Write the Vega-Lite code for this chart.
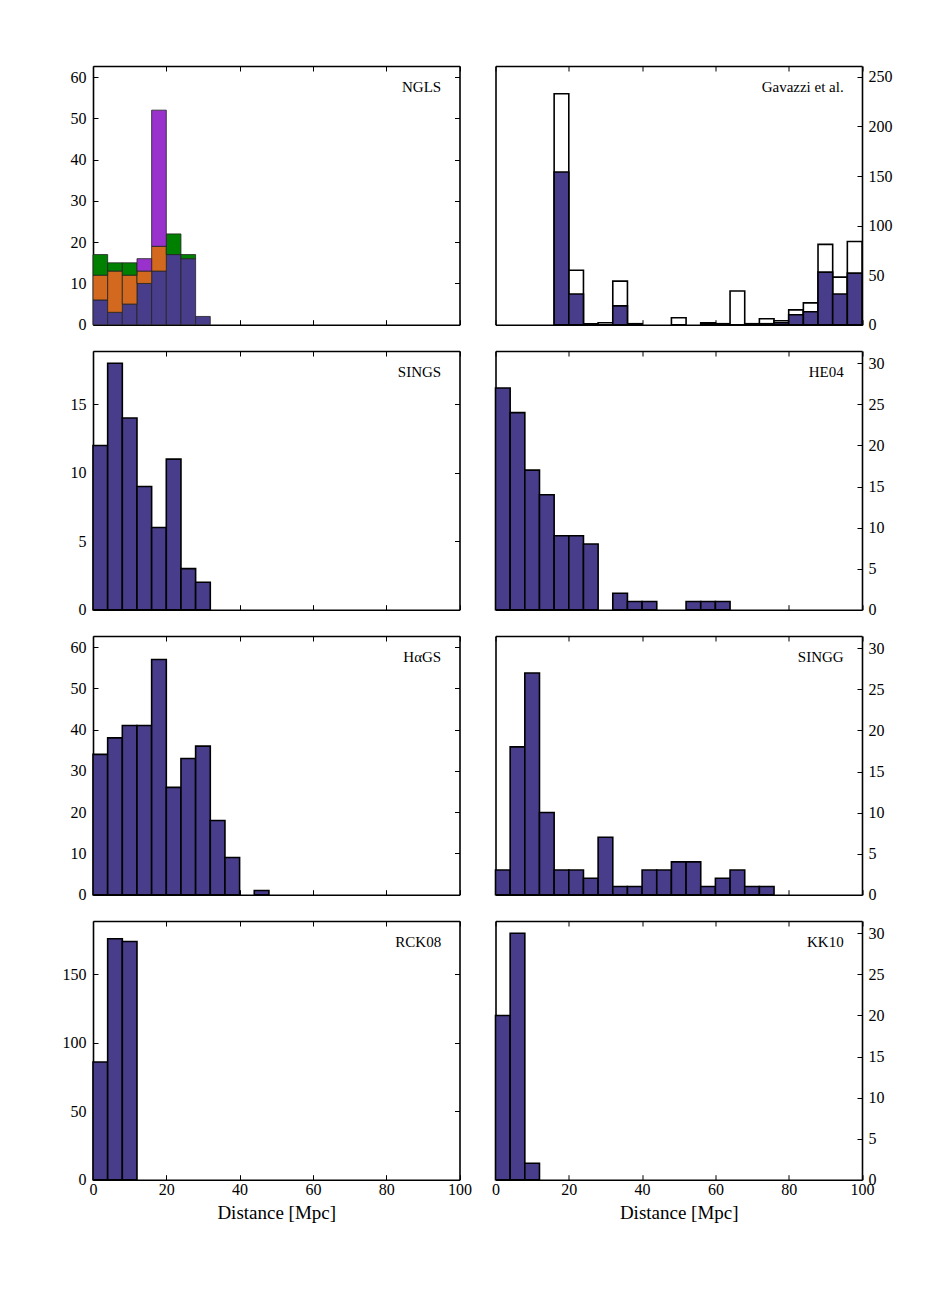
{
  "$schema": "https://vega.github.io/schema/vega-lite/v6.json",
  "padding": {"left": 62, "top": 65, "right": 5, "bottom": 5},
  "background": "white",
  "datasets": {
    "ngls": [
      {"lo": 0, "hi": 4, "n": 6, "group": "group 1"},
      {"lo": 4, "hi": 8, "n": 3, "group": "group 1"},
      {"lo": 8, "hi": 12, "n": 5, "group": "group 1"},
      {"lo": 12, "hi": 16, "n": 10, "group": "group 1"},
      {"lo": 16, "hi": 20, "n": 13, "group": "group 1"},
      {"lo": 20, "hi": 24, "n": 17, "group": "group 1"},
      {"lo": 24, "hi": 28, "n": 16, "group": "group 1"},
      {"lo": 28, "hi": 32, "n": 2, "group": "group 1"},
      {"lo": 0, "hi": 4, "n": 6, "group": "group 2"},
      {"lo": 4, "hi": 8, "n": 10, "group": "group 2"},
      {"lo": 8, "hi": 12, "n": 7, "group": "group 2"},
      {"lo": 12, "hi": 16, "n": 3, "group": "group 2"},
      {"lo": 16, "hi": 20, "n": 6, "group": "group 2"},
      {"lo": 0, "hi": 4, "n": 5, "group": "group 3"},
      {"lo": 4, "hi": 8, "n": 2, "group": "group 3"},
      {"lo": 8, "hi": 12, "n": 3, "group": "group 3"},
      {"lo": 20, "hi": 24, "n": 5, "group": "group 3"},
      {"lo": 24, "hi": 28, "n": 1, "group": "group 3"},
      {"lo": 12, "hi": 16, "n": 3, "group": "group 4"},
      {"lo": 16, "hi": 20, "n": 33, "group": "group 4"}
    ],
    "gavazzi": [
      {"lo": 16, "hi": 20, "all": 233, "sub": 154},
      {"lo": 20, "hi": 24, "all": 55, "sub": 31},
      {"lo": 24, "hi": 28, "all": 1, "sub": 0},
      {"lo": 28, "hi": 32, "all": 2, "sub": 0},
      {"lo": 32, "hi": 36, "all": 44, "sub": 19},
      {"lo": 36, "hi": 40, "all": 1, "sub": 0},
      {"lo": 48, "hi": 52, "all": 7, "sub": 0},
      {"lo": 56, "hi": 60, "all": 2, "sub": 1},
      {"lo": 60, "hi": 64, "all": 1, "sub": 0},
      {"lo": 64, "hi": 68, "all": 34, "sub": 0},
      {"lo": 68, "hi": 72, "all": 1, "sub": 0},
      {"lo": 72, "hi": 76, "all": 6, "sub": 1},
      {"lo": 76, "hi": 80, "all": 4, "sub": 2},
      {"lo": 80, "hi": 84, "all": 15, "sub": 10},
      {"lo": 84, "hi": 88, "all": 22, "sub": 13},
      {"lo": 88, "hi": 92, "all": 81, "sub": 53},
      {"lo": 92, "hi": 96, "all": 48, "sub": 31},
      {"lo": 96, "hi": 100, "all": 84, "sub": 52}
    ],
    "sings": [
      {"lo": 0, "hi": 4, "n": 12}, {"lo": 4, "hi": 8, "n": 18}, {"lo": 8, "hi": 12, "n": 14},
      {"lo": 12, "hi": 16, "n": 9}, {"lo": 16, "hi": 20, "n": 6}, {"lo": 20, "hi": 24, "n": 11},
      {"lo": 24, "hi": 28, "n": 3}, {"lo": 28, "hi": 32, "n": 2}
    ],
    "he04": [
      {"lo": 0, "hi": 4, "n": 27}, {"lo": 4, "hi": 8, "n": 24}, {"lo": 8, "hi": 12, "n": 17},
      {"lo": 12, "hi": 16, "n": 14}, {"lo": 16, "hi": 20, "n": 9}, {"lo": 20, "hi": 24, "n": 9},
      {"lo": 24, "hi": 28, "n": 8}, {"lo": 32, "hi": 36, "n": 2}, {"lo": 36, "hi": 40, "n": 1},
      {"lo": 40, "hi": 44, "n": 1}, {"lo": 52, "hi": 56, "n": 1}, {"lo": 56, "hi": 60, "n": 1},
      {"lo": 60, "hi": 64, "n": 1}
    ],
    "hags": [
      {"lo": 0, "hi": 4, "n": 34}, {"lo": 4, "hi": 8, "n": 38}, {"lo": 8, "hi": 12, "n": 41},
      {"lo": 12, "hi": 16, "n": 41}, {"lo": 16, "hi": 20, "n": 57}, {"lo": 20, "hi": 24, "n": 26},
      {"lo": 24, "hi": 28, "n": 33}, {"lo": 28, "hi": 32, "n": 36}, {"lo": 32, "hi": 36, "n": 18},
      {"lo": 36, "hi": 40, "n": 9}, {"lo": 44, "hi": 48, "n": 1}
    ],
    "singg": [
      {"lo": 0, "hi": 4, "n": 3}, {"lo": 4, "hi": 8, "n": 18}, {"lo": 8, "hi": 12, "n": 27},
      {"lo": 12, "hi": 16, "n": 10}, {"lo": 16, "hi": 20, "n": 3}, {"lo": 20, "hi": 24, "n": 3},
      {"lo": 24, "hi": 28, "n": 2}, {"lo": 28, "hi": 32, "n": 7}, {"lo": 32, "hi": 36, "n": 1},
      {"lo": 36, "hi": 40, "n": 1}, {"lo": 40, "hi": 44, "n": 3}, {"lo": 44, "hi": 48, "n": 3},
      {"lo": 48, "hi": 52, "n": 4}, {"lo": 52, "hi": 56, "n": 4}, {"lo": 56, "hi": 60, "n": 1},
      {"lo": 60, "hi": 64, "n": 2}, {"lo": 64, "hi": 68, "n": 3}, {"lo": 68, "hi": 72, "n": 1},
      {"lo": 72, "hi": 76, "n": 1}
    ],
    "rck08": [
      {"lo": 0, "hi": 4, "n": 86}, {"lo": 4, "hi": 8, "n": 176}, {"lo": 8, "hi": 12, "n": 174}
    ],
    "kk10": [
      {"lo": 0, "hi": 4, "n": 20}, {"lo": 4, "hi": 8, "n": 30}, {"lo": 8, "hi": 12, "n": 2}
    ]
  },
  "columns": 2,
  "spacing": {"row": 26, "column": 35.5},
  "bounds": "flush",
  "concat": [
    {
      "width": 366.5, "height": 258.7,
      "layer": [
        {
          "data": {"name": "ngls"},
          "mark": {"type": "bar", "orient": "vertical", "stroke": "#222222", "strokeWidth": 0.8},
          "encoding": {
            "x": {"field": "lo", "type": "quantitative", "scale": {"domain": [0, 100], "nice": false, "zero": false, "padding": 0}, "axis": {"orient": "bottom", "values": [0, 20, 40, 60, 80, 100], "labels": false, "title": null}},
            "x2": {"field": "hi"},
            "y": {"field": "n", "type": "quantitative", "stack": "zero", "scale": {"domain": [0, 62.7], "nice": false, "padding": 0}, "axis": {"orient": "left", "values": [0, 10, 20, 30, 40, 50, 60], "title": null}},
            "color": {"field": "group", "type": "nominal", "scale": {"domain": ["group 1", "group 2", "group 3", "group 4"], "range": ["#483D8B", "#D2691E", "#008000", "#9932CC"]}, "legend": null},
            "order": {"field": "group", "sort": "ascending"}
          }
        },
        {
          "data": {"values": [{"label": "NGLS"}]},
          "mark": {"type": "text", "align": "right", "baseline": "middle", "fontSize": 15, "font": "Liberation Serif", "color": "black"},
          "encoding": {
            "x": {"datum": 95, "type": "quantitative", "axis": {"orient": "top", "values": [0, 20, 40, 60, 80, 100], "labels": false, "title": null}},
            "y": {"datum": 57.6, "type": "quantitative", "axis": {"orient": "right", "values": [0, 10, 20, 30, 40, 50, 60], "labels": false, "title": null}},
            "text": {"field": "label"}
          }
        }
      ],
      "resolve": {"axis": {"x": "independent", "y": "independent"}}
    },
    {
      "width": 366.5, "height": 258.7,
      "layer": [
        {
          "data": {"name": "gavazzi"},
          "mark": {"type": "bar", "orient": "vertical", "fill": "white", "stroke": "black", "strokeWidth": 1.6},
          "encoding": {
            "x": {"field": "lo", "type": "quantitative", "scale": {"domain": [0, 100], "nice": false, "zero": false, "padding": 0}, "axis": {"orient": "bottom", "values": [0, 20, 40, 60, 80, 100], "labels": false, "title": null}},
            "x2": {"field": "hi"},
            "y": {"field": "all", "type": "quantitative", "scale": {"domain": [0, 261], "nice": false, "padding": 0}, "axis": {"orient": "left", "ticks": false, "labels": false, "title": null}}
          }
        },
        {
          "data": {"name": "gavazzi"},
          "mark": {"type": "bar", "orient": "vertical", "fill": "#483D8B", "stroke": "black", "strokeWidth": 1.6},
          "encoding": {
            "x": {"field": "lo", "type": "quantitative", "axis": {"orient": "top", "values": [0, 20, 40, 60, 80, 100], "labels": false, "title": null}},
            "x2": {"field": "hi"},
            "y": {"field": "sub", "type": "quantitative", "axis": {"orient": "right", "values": [0, 50, 100, 150, 200, 250], "title": null}}
          }
        },
        {
          "data": {"values": [{"label": "Gavazzi et al."}]},
          "mark": {"type": "text", "align": "right", "baseline": "middle", "fontSize": 15, "font": "Liberation Serif", "color": "black"},
          "encoding": {
            "x": {"datum": 95, "type": "quantitative", "axis": null},
            "y": {"datum": 239.7, "type": "quantitative", "axis": null},
            "text": {"field": "label"}
          }
        }
      ],
      "resolve": {"axis": {"x": "independent", "y": "independent"}}
    },
    {
      "width": 366.5, "height": 258.7,
      "layer": [
        {
          "data": {"name": "sings"},
          "mark": {"type": "bar", "orient": "vertical", "fill": "#483D8B", "stroke": "black", "strokeWidth": 1.6},
          "encoding": {
            "x": {"field": "lo", "type": "quantitative", "scale": {"domain": [0, 100], "nice": false, "zero": false, "padding": 0}, "axis": {"orient": "bottom", "values": [0, 20, 40, 60, 80, 100], "labels": false, "title": null}},
            "x2": {"field": "hi"},
            "y": {"field": "n", "type": "quantitative", "scale": {"domain": [0, 18.9], "nice": false, "padding": 0}, "axis": {"orient": "left", "values": [0, 5, 10, 15], "title": null}}
          }
        },
        {
          "data": {"values": [{"label": "SINGS"}]},
          "mark": {"type": "text", "align": "right", "baseline": "middle", "fontSize": 15, "font": "Liberation Serif", "color": "black"},
          "encoding": {
            "x": {"datum": 95, "type": "quantitative", "axis": {"orient": "top", "values": [0, 20, 40, 60, 80, 100], "labels": false, "title": null}},
            "y": {"datum": 17.36, "type": "quantitative", "axis": {"orient": "right", "values": [0, 5, 10, 15], "labels": false, "title": null}},
            "text": {"field": "label"}
          }
        }
      ],
      "resolve": {"axis": {"x": "independent", "y": "independent"}}
    },
    {
      "width": 366.5, "height": 258.7,
      "layer": [
        {
          "data": {"name": "he04"},
          "mark": {"type": "bar", "orient": "vertical", "fill": "#483D8B", "stroke": "black", "strokeWidth": 1.6},
          "encoding": {
            "x": {"field": "lo", "type": "quantitative", "scale": {"domain": [0, 100], "nice": false, "zero": false, "padding": 0}, "axis": {"orient": "bottom", "values": [0, 20, 40, 60, 80, 100], "labels": false, "title": null}},
            "x2": {"field": "hi"},
            "y": {"field": "n", "type": "quantitative", "scale": {"domain": [0, 31.5], "nice": false, "padding": 0}, "axis": {"orient": "left", "ticks": false, "labels": false, "title": null}}
          }
        },
        {
          "data": {"values": [{"label": "HE04"}]},
          "mark": {"type": "text", "align": "right", "baseline": "middle", "fontSize": 15, "font": "Liberation Serif", "color": "black"},
          "encoding": {
            "x": {"datum": 95, "type": "quantitative", "axis": {"orient": "top", "values": [0, 20, 40, 60, 80, 100], "labels": false, "title": null}},
            "y": {"datum": 28.95, "type": "quantitative", "axis": {"orient": "right", "values": [0, 5, 10, 15, 20, 25, 30], "title": null}},
            "text": {"field": "label"}
          }
        }
      ],
      "resolve": {"axis": {"x": "independent", "y": "independent"}}
    },
    {
      "width": 366.5, "height": 258.7,
      "layer": [
        {
          "data": {"name": "hags"},
          "mark": {"type": "bar", "orient": "vertical", "fill": "#483D8B", "stroke": "black", "strokeWidth": 1.6},
          "encoding": {
            "x": {"field": "lo", "type": "quantitative", "scale": {"domain": [0, 100], "nice": false, "zero": false, "padding": 0}, "axis": {"orient": "bottom", "values": [0, 20, 40, 60, 80, 100], "labels": false, "title": null}},
            "x2": {"field": "hi"},
            "y": {"field": "n", "type": "quantitative", "scale": {"domain": [0, 62.7], "nice": false, "padding": 0}, "axis": {"orient": "left", "values": [0, 10, 20, 30, 40, 50, 60], "title": null}}
          }
        },
        {
          "data": {"values": [{"label": "HαGS"}]},
          "mark": {"type": "text", "align": "right", "baseline": "middle", "fontSize": 15, "font": "Liberation Serif", "color": "black"},
          "encoding": {
            "x": {"datum": 95, "type": "quantitative", "axis": {"orient": "top", "values": [0, 20, 40, 60, 80, 100], "labels": false, "title": null}},
            "y": {"datum": 57.6, "type": "quantitative", "axis": {"orient": "right", "values": [0, 10, 20, 30, 40, 50, 60], "labels": false, "title": null}},
            "text": {"field": "label"}
          }
        }
      ],
      "resolve": {"axis": {"x": "independent", "y": "independent"}}
    },
    {
      "width": 366.5, "height": 258.7,
      "layer": [
        {
          "data": {"name": "singg"},
          "mark": {"type": "bar", "orient": "vertical", "fill": "#483D8B", "stroke": "black", "strokeWidth": 1.6},
          "encoding": {
            "x": {"field": "lo", "type": "quantitative", "scale": {"domain": [0, 100], "nice": false, "zero": false, "padding": 0}, "axis": {"orient": "bottom", "values": [0, 20, 40, 60, 80, 100], "labels": false, "title": null}},
            "x2": {"field": "hi"},
            "y": {"field": "n", "type": "quantitative", "scale": {"domain": [0, 31.5], "nice": false, "padding": 0}, "axis": {"orient": "left", "ticks": false, "labels": false, "title": null}}
          }
        },
        {
          "data": {"values": [{"label": "SINGG"}]},
          "mark": {"type": "text", "align": "right", "baseline": "middle", "fontSize": 15, "font": "Liberation Serif", "color": "black"},
          "encoding": {
            "x": {"datum": 95, "type": "quantitative", "axis": {"orient": "top", "values": [0, 20, 40, 60, 80, 100], "labels": false, "title": null}},
            "y": {"datum": 28.95, "type": "quantitative", "axis": {"orient": "right", "values": [0, 5, 10, 15, 20, 25, 30], "title": null}},
            "text": {"field": "label"}
          }
        }
      ],
      "resolve": {"axis": {"x": "independent", "y": "independent"}}
    },
    {
      "width": 366.5, "height": 258.7,
      "layer": [
        {
          "data": {"name": "rck08"},
          "mark": {"type": "bar", "orient": "vertical", "fill": "#483D8B", "stroke": "black", "strokeWidth": 1.6},
          "encoding": {
            "x": {"field": "lo", "type": "quantitative", "scale": {"domain": [0, 100], "nice": false, "zero": false, "padding": 0}, "axis": {"orient": "bottom", "values": [0, 20, 40, 60, 80, 100], "title": "Distance [Mpc]"}},
            "x2": {"field": "hi"},
            "y": {"field": "n", "type": "quantitative", "scale": {"domain": [0, 189], "nice": false, "padding": 0}, "axis": {"orient": "left", "values": [0, 50, 100, 150], "title": null}}
          }
        },
        {
          "data": {"values": [{"label": "RCK08"}]},
          "mark": {"type": "text", "align": "right", "baseline": "middle", "fontSize": 15, "font": "Liberation Serif", "color": "black"},
          "encoding": {
            "x": {"datum": 95, "type": "quantitative", "axis": {"orient": "top", "values": [0, 20, 40, 60, 80, 100], "labels": false, "title": null}},
            "y": {"datum": 173.6, "type": "quantitative", "axis": {"orient": "right", "values": [0, 50, 100, 150], "labels": false, "title": null}},
            "text": {"field": "label"}
          }
        }
      ],
      "resolve": {"axis": {"x": "independent", "y": "independent"}}
    },
    {
      "width": 366.5, "height": 258.7,
      "layer": [
        {
          "data": {"name": "kk10"},
          "mark": {"type": "bar", "orient": "vertical", "fill": "#483D8B", "stroke": "black", "strokeWidth": 1.6},
          "encoding": {
            "x": {"field": "lo", "type": "quantitative", "scale": {"domain": [0, 100], "nice": false, "zero": false, "padding": 0}, "axis": {"orient": "bottom", "values": [0, 20, 40, 60, 80, 100], "title": "Distance [Mpc]"}},
            "x2": {"field": "hi"},
            "y": {"field": "n", "type": "quantitative", "scale": {"domain": [0, 31.5], "nice": false, "padding": 0}, "axis": {"orient": "left", "ticks": false, "labels": false, "title": null}}
          }
        },
        {
          "data": {"values": [{"label": "KK10"}]},
          "mark": {"type": "text", "align": "right", "baseline": "middle", "fontSize": 15, "font": "Liberation Serif", "color": "black"},
          "encoding": {
            "x": {"datum": 95, "type": "quantitative", "axis": {"orient": "top", "values": [0, 20, 40, 60, 80, 100], "labels": false, "title": null}},
            "y": {"datum": 28.95, "type": "quantitative", "axis": {"orient": "right", "values": [0, 5, 10, 15, 20, 25, 30], "title": null}},
            "text": {"field": "label"}
          }
        }
      ],
      "resolve": {"axis": {"x": "independent", "y": "independent"}}
    }
  ],
  "config": {
    "view": {"stroke": null},
    "axis": {
      "domain": true, "domainColor": "black", "domainWidth": 1.6,
      "grid": false,
      "ticks": true, "tickSize": -5, "tickColor": "black", "tickWidth": 1,
      "labelFont": "Liberation Serif", "labelFontSize": 16, "labelColor": "black",
      "labelFlush": false, "labelOverlap": false,
      "titleFont": "Liberation Serif", "titleFontSize": 19, "titleFontWeight": "normal", "titleColor": "black", "titlePadding": 6,
      "zindex": 1
    },
    "axisBottom": {"labelPadding": 7},
    "axisLeft": {"labelPadding": 12},
    "axisRight": {"labelPadding": 11},
    "text": {"font": "Liberation Serif"}
  }
}
